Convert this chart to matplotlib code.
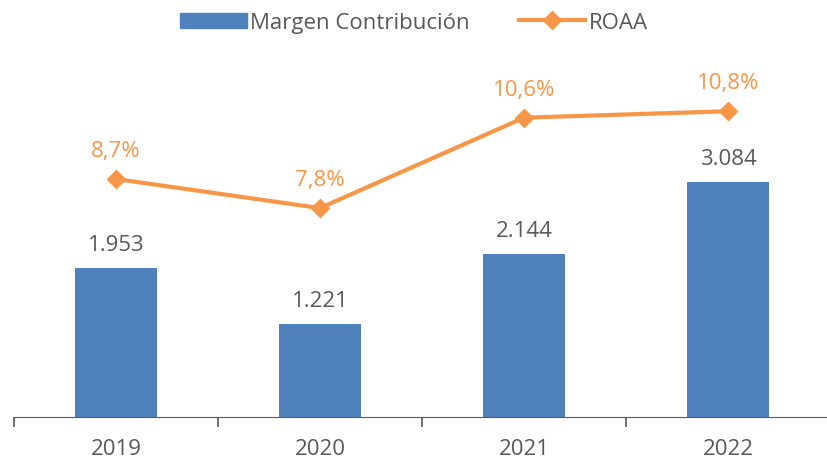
import matplotlib.pyplot as plt
from matplotlib.lines import Line2D
from matplotlib.patches import Patch

years = ['2019', '2020', '2021', '2022']
margen = [1953, 1221, 2144, 3084]
roaa = [8.7, 7.8, 10.6, 10.8]

BLUE = '#4F81BD'
ORANGE = '#F79646'
GRAY = '#595959'

plt.rcParams['font.family'] = ['Open Sans', 'DejaVu Sans']
FS = 16


def fmt_miles(v):
    return f'{v:,}'.replace(',', '.')


def main():
    fig = plt.figure(figsize=(8.28, 4.6), dpi=100)
    ax = fig.add_axes([14 / 828, 42 / 460, 816 / 828, 381 / 460])
    x = range(len(years))

    ax.bar(x, margen, width=0.4, color=BLUE, zorder=2)
    ax.set_xlim(-0.5, len(years) - 0.5)
    ax.set_ylim(0, 5000)
    for i, v in zip(x, margen):
        ax.text(i, v + 170, fmt_miles(v), ha='center', va='bottom',
                fontsize=FS, color=GRAY)

    for s in ['top', 'right', 'left']:
        ax.spines[s].set_visible(False)
    ax.spines['bottom'].set_color(GRAY)
    ax.set_yticks([])
    ax.set_xticks(x)
    ax.set_xticklabels(years, fontsize=FS, color=GRAY)
    ax.tick_params(axis='x', length=0, pad=15)
    # category boundary ticks
    ax.set_xticks([i - 0.5 for i in range(len(years) + 1)], minor=True)
    ax.tick_params(axis='x', which='minor', length=7, color=GRAY, width=1.2)

    ax2 = ax.twinx()
    ax2.plot(x, roaa, color=ORANGE, lw=3, marker='D', markersize=9, zorder=3)
    ax2.set_ylim(1.33, 13.13)
    ax2.axis('off')
    for i, v in zip(x, roaa):
        ax2.text(i, v + 0.55, f'{v:.1f}%'.replace('.', ','), ha='center',
                 va='bottom', fontsize=FS, color=ORANGE)

    handles = [Patch(color=BLUE),
               Line2D([], [], color=ORANGE, lw=3, marker='D', markersize=9)]
    fig.legend(handles, ['Margen Contribución', 'ROAA'], loc='upper center',
               bbox_to_anchor=(0.5, 1.015), ncol=2, frameon=False,
               fontsize=FS, labelcolor=GRAY, handlelength=3.0,
               handletextpad=0.15, columnspacing=2.2)

    fig.savefig('out.png', dpi=100)


if __name__ == '__main__':
    main()
